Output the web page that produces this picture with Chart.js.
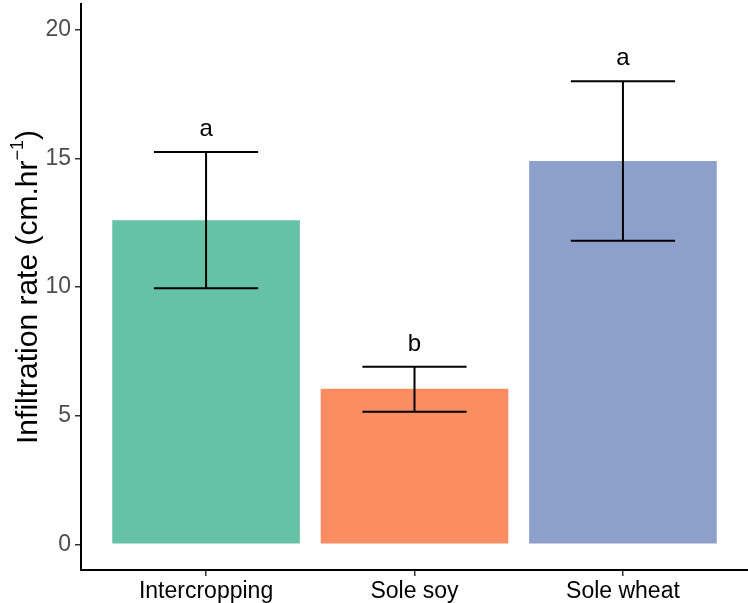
<!DOCTYPE html>
<html>
<head>
<meta charset="utf-8">
<script src="https://cdn.jsdelivr.net/npm/chart.js@4"></script>
<style>
  html, body { margin: 0; padding: 0; background: #fff; }
  #wrap { width: 748px; height: 603px; }
</style>
</head>
<body>
<div id="wrap"><canvas id="infiltracion-chart"></canvas></div>
<script>
// datos
var categorias = ['Intercropping', 'Sole soy', 'Sole wheat'];
var medias = [12.6, 6.05, 14.9];
var errorInf = [9.95, 5.15, 11.8];
var errorSup = [15.25, 6.9, 18.0];
var letras = ['a', 'b', 'a'];
var colores = ['#66C2A5', '#FC8D62', '#8DA0CB'];
var ticksY = [0, 5, 10, 15, 20];

var fuente = '"Liberation Sans", Arial, Helvetica, sans-serif';

// barras de error y letras de significancia
var pluginErrores = {
    id: 'barrasError',
    afterDatasetsDraw: function (chart) {
        var ctx = chart.ctx;
        var x = chart.scales.x, y = chart.scales.y;
        ctx.save();
        ctx.strokeStyle = '#000';
        ctx.lineWidth = 2;
        categorias.forEach(function (c, i) {
            var xc = x.getPixelForValue(i + 1);
            var xl = x.getPixelForValue(i + 1 - 0.25);
            var xr = x.getPixelForValue(i + 1 + 0.25);
            var yl = y.getPixelForValue(errorInf[i]);
            var yu = y.getPixelForValue(errorSup[i]);
            ctx.beginPath();
            ctx.moveTo(xc, yl); ctx.lineTo(xc, yu);
            ctx.moveTo(xl, yl); ctx.lineTo(xr, yl);
            ctx.moveTo(xl, yu); ctx.lineTo(xr, yu);
            ctx.stroke();
            ctx.fillStyle = '#000';
            ctx.font = '24px ' + fuente;
            ctx.textAlign = 'center';
            ctx.textBaseline = 'alphabetic';
            ctx.fillText(letras[i], xc, yu - 16);
        });
        ctx.restore();
    }
};

// título del eje Y con superíndice
var pluginTituloY = {
    id: 'tituloY',
    afterDraw: function (chart) {
        var ctx = chart.ctx;
        var partes = ['Infiltration rate (cm.hr', '\u22121', ')'];
        ctx.save();
        ctx.translate(37, 287);
        ctx.rotate(-Math.PI / 2);
        ctx.fillStyle = '#000';
        ctx.textBaseline = 'alphabetic';
        ctx.font = '30px ' + fuente;
        var w1 = ctx.measureText(partes[0]).width;
        var w3 = ctx.measureText(partes[2]).width;
        ctx.font = '18px ' + fuente;
        var w2 = ctx.measureText(partes[1]).width;
        var x0 = -(w1 + w2 + w3) / 2;
        ctx.font = '30px ' + fuente;
        ctx.fillText(partes[0], x0, 0);
        ctx.font = '18px ' + fuente;
        ctx.fillText(partes[1], x0 + w1, -14);
        ctx.font = '30px ' + fuente;
        ctx.fillText(partes[2], x0 + w1 + w2, 0);
        ctx.restore();
    }
};

var ctx = document.getElementById('infiltracion-chart').getContext('2d');
var grafico = new Chart(ctx, {
    type: 'bar',
    data: {
        datasets: [{
            data: medias.map(function (v, i) { return { x: i + 1, y: v }; }),
            backgroundColor: colores,
            borderWidth: 0,
            barPercentage: 0.9,
            categoryPercentage: 1
        }]
    },
    options: {
        responsive: true,
        maintainAspectRatio: false,
        animation: false,
        layout: { padding: 0 },
        scales: {
            x: {
                type: 'linear',
                offset: false,
                min: 0.4,
                max: 3.6,
                afterBuildTicks: function (scale) {
                    scale.ticks = categorias.map(function (c, i) { return { value: i + 1 }; });
                },
                afterFit: function (scale) { scale.height = 33; },
                ticks: {
                    autoSkip: false,
                    maxRotation: 0,
                    padding: 2,
                    color: '#000',
                    font: { size: 23, family: fuente },
                    callback: function (v) { return categorias[v - 1]; }
                },
                grid: { offset: false, drawOnChartArea: false, drawTicks: true, tickLength: 6, color: '#333', lineWidth: 1.5 },
                border: { display: true, color: '#000', width: 2 }
            },
            y: {
                min: -1,
                max: 21,
                afterBuildTicks: function (scale) {
                    scale.ticks = ticksY.map(function (v) { return { value: v }; });
                },
                afterFit: function (scale) { scale.width = 81; },
                ticks: {
                    padding: 4,
                    color: '#4D4D4D',
                    font: { size: 23, family: fuente, lineHeight: 0.01 }
                },
                grid: { drawOnChartArea: false, drawTicks: true, tickLength: 6, color: '#333', lineWidth: 1.5 },
                border: { display: true, color: '#000', width: 2 }
            }
        },
        plugins: {
            legend: { display: false },
            tooltip: { enabled: false }
        }
    },
    plugins: [pluginErrores, pluginTituloY]
});
</script>
</body>
</html>
